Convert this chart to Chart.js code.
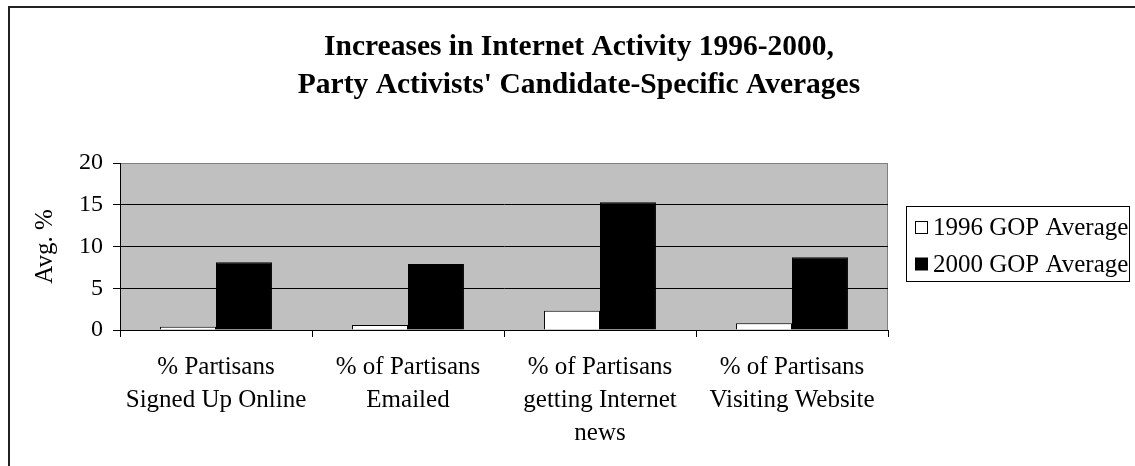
<!DOCTYPE html>
<html>
<head>
<meta charset="utf-8">
<script src="https://cdn.jsdelivr.net/npm/chart.js@4.4.1/dist/chart.umd.min.js"></script>
<style>
  html, body { margin: 0; padding: 0; background: #fff; }
  #wrap { position: relative; width: 1135px; height: 466px; overflow: hidden; }
  #frame { position: absolute; left: 8px; top: 6px; right: -10px; bottom: -10px;
           border-top: 2px solid #222; border-left: 2px solid #222; }
  canvas { position: absolute; left: 0; top: 0; }
</style>
</head>
<body>
<div id="wrap">
  <div id="frame"></div>
  <canvas id="c" width="1135" height="466"></canvas>
</div>
<script>
// Activity categories (multi-line tick labels)
const categories = [
  ["% Partisans", "Signed Up Online"],
  ["% of Partisans", "Emailed"],
  ["% of Partisans", "getting Internet", "news"],
  ["% of Partisans", "Visiting Website"]
];
const seriesNames = ["1996 GOP Average", "2000 GOP Average"];
const avg1996 = [0.4, 0.6, 2.3, 0.8];
const avg2000 = [8.1, 7.9, 15.3, 8.7];
const yTicks = [0, 5, 10, 15, 20];
const titleLines = ["Increases in Internet Activity 1996-2000,", "Party Activists' Candidate-Specific Averages"];
const yAxisTitle = "Avg. %";

const FONT = "'Liberation Serif', 'Times New Roman', serif";

// Gray plot background with a thin gray frame on the top and right
const plotBackground = {
  id: 'plotBackground',
  beforeDraw(chart) {
    const { ctx, chartArea: a } = chart;
    ctx.save();
    ctx.fillStyle = '#c0c0c0';
    ctx.fillRect(a.left, a.top, a.right - a.left, a.bottom - a.top);
    ctx.strokeStyle = '#808080';
    ctx.lineWidth = 1;
    ctx.beginPath();
    ctx.moveTo(a.left, a.top + 0.5);
    ctx.lineTo(a.right - 0.5, a.top + 0.5);
    ctx.lineTo(a.right - 0.5, a.bottom);
    ctx.stroke();
    ctx.restore();
  }
};

// Two-line bold heading, centred over the whole chart block
const heading = {
  id: 'heading',
  afterDraw(chart) {
    const { ctx } = chart;
    ctx.save();
    ctx.font = 'bold 29.5px ' + FONT;
    ctx.fillStyle = '#000';
    ctx.textAlign = 'center';
    ctx.textBaseline = 'middle';
    titleLines.forEach((line, i) => ctx.fillText(line, 579, 47 + i * 38));
    ctx.restore();
  }
};

// Boxed legend to the right of the plot
const boxedLegend = {
  id: 'boxedLegend',
  afterDraw(chart) {
    const { ctx } = chart;
    const x = 906.5, y = 206.5, w = 223, h = 75;
    ctx.save();
    ctx.fillStyle = '#fff';
    ctx.fillRect(x, y, w, h);
    ctx.strokeStyle = '#000';
    ctx.lineWidth = 1;
    ctx.strokeRect(x, y, w, h);
    ctx.font = '25px ' + FONT;
    ctx.textBaseline = 'middle';
    ctx.textAlign = 'left';
    const rows = [227.5, 264];
    chart.data.datasets.forEach((ds, i) => {
      const cy = rows[i];
      ctx.fillStyle = ds.backgroundColor;
      ctx.fillRect(915.5, cy - 6, 12, 12);
      ctx.strokeStyle = '#000';
      ctx.strokeRect(915.5, cy - 6, 12, 12);
      ctx.fillStyle = '#000';
      ctx.fillText(ds.label, 933, cy + 1);
    });
    ctx.restore();
  }
};

new Chart(document.getElementById('c'), {
  type: 'bar',
  data: {
    labels: categories,
    datasets: [
      { label: seriesNames[0], data: avg1996, backgroundColor: '#ffffff', borderColor: '#000000', borderWidth: 1 },
      { label: seriesNames[1], data: avg2000, backgroundColor: '#000000', borderColor: '#000000', borderWidth: 1 }
    ]
  },
  options: {
    responsive: false,
    animation: false,
    layout: { padding: { left: 22, right: 247, top: 163, bottom: 2 } },
    datasets: { bar: { categoryPercentage: 0.583, barPercentage: 1.0 } },
    plugins: {
      legend: { display: false },
      tooltip: { enabled: false },
      title: { display: false }
    },
    scales: {
      x: {
        offset: true,
        grid: { offset: true, drawOnChartArea: false, drawTicks: true, tickLength: 7, tickColor: '#000' },
        border: { color: '#000', width: 1 },
        ticks: { color: '#000', padding: 14, maxRotation: 0, autoSkip: false,
                 font: { family: FONT, size: 25, lineHeight: 1.32 } }
      },
      y: {
        min: 0, max: 20,
        afterBuildTicks(scale) { scale.ticks = yTicks.map(v => ({ value: v })); },
        afterFit(scale) { scale.width = 98; },
        grid: {
          color: ctx => (ctx.tick && ctx.tick.value === 20) ? '#808080' : '#000',
          tickColor: '#000', tickLength: 7, lineWidth: 1
        },
        border: { color: '#000', width: 1 },
        ticks: { color: '#000', padding: 10, font: { family: FONT, size: 24 } },
        title: { display: true, text: yAxisTitle, color: '#000', padding: { top: 8 },
                 font: { family: FONT, size: 25, lineHeight: 1.2 } }
      }
    }
  },
  plugins: [plotBackground, heading, boxedLegend]
});
</script>
</body>
</html>
